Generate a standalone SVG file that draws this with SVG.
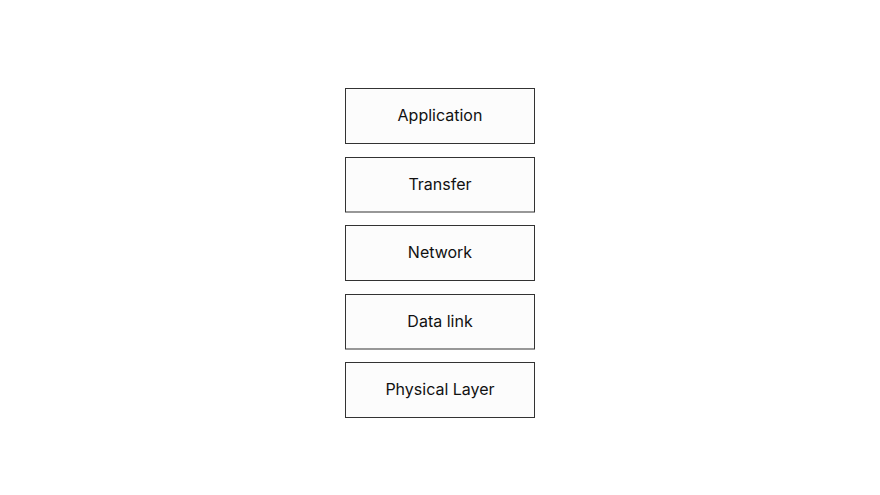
<svg xmlns="http://www.w3.org/2000/svg" width="880" height="495" viewBox="0 0 880 495">
<style>
.box{fill:#fcfcfc;stroke:#333333;stroke-width:1}
.lbl{font-family:Inter,"Liberation Sans",sans-serif;font-size:16px;fill:#111111;text-anchor:middle;dominant-baseline:central}
</style>
<rect width="880" height="495" fill="#ffffff"/>
<g id="connectors"></g>
<g id="application"><rect class="box" x="345.5" y="88.5" width="189" height="55"/><text class="lbl" x="440" y="115">Application</text></g>
<g id="transfer"><rect class="box" x="345.5" y="157.5" width="189" height="54.5"/><text class="lbl" x="440" y="183.5">Transfer</text></g>
<g id="network"><rect class="box" x="345.5" y="225.5" width="189" height="55"/><text class="lbl" x="440" y="252">Network</text></g>
<g id="datalink"><rect class="box" x="345.5" y="294.5" width="189" height="54.5"/><text class="lbl" x="440" y="320.5">Data link</text></g>
<g id="physical"><rect class="box" x="345.5" y="362.5" width="189" height="55"/><text class="lbl" x="440" y="389">Physical Layer</text></g>
</svg>
